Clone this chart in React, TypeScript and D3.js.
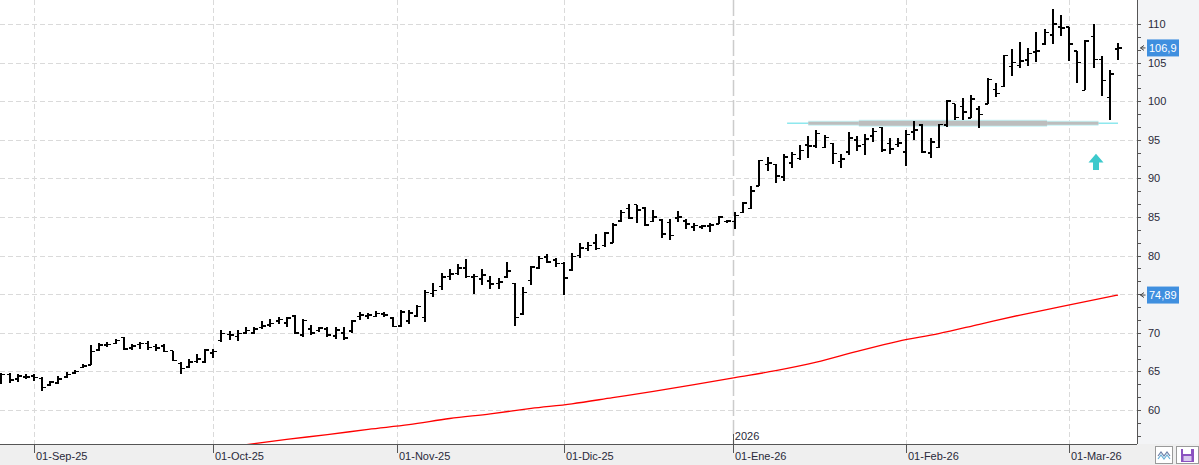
import { useMemo } from "react";
import * as d3 from "d3";

const WIDTH = 1199;
const HEIGHT = 465;
const PLOT = { left: 0, right: 1137, top: 0, bottom: 444 };
const FONT = "'Liberation Sans', Arial, sans-serif";

// daily OHLC, 26-Aug-25 .. 10-Mar-26
const opens = [
  64.2, 64.6, 64.0, 64.3, 64.4, 64.1, 63.2, 63.5, 64.3, 64.8, 65.5, 65.8, 67.8, 68.4, 68.6, 69.4, 68.0, 68.5, 68.6, 68.2,
  68.3, 67.7, 66.0, 65.6, 66.3, 66.2, 67.4, 69.0, 69.8, 69.5, 70.0, 70.0, 70.7, 71.0, 71.5, 71.3, 72.2, 69.7, 70.5, 70.3,
  70.5, 69.6, 70.0, 70.2, 72.1, 72.2, 72.1, 72.4, 71.9, 70.9, 71.5, 72.2, 72.0, 75.1, 76.0, 77.3, 77.7, 78.4, 77.2, 77.0,
  76.7, 76.4, 77.2, 76.4, 72.4, 76.8, 78.4, 79.8, 79.4, 79.0, 78.1, 80.0, 80.9, 81.6, 81.3, 81.6, 84.5, 86.1, 86.6, 86.2,
  84.4, 84.6, 84.3, 84.9, 84.5, 83.7, 83.7, 83.8, 84.1, 84.4, 84.4, 85.6, 86.1, 89.0, 91.8, 91.8, 90.2, 92.0, 92.6, 94.3,
  94.2, 94.0, 94.5, 92.2, 93.4, 95.0, 94.4, 95.5, 96.6, 94.5, 94.4, 93.4, 96.0, 96.9, 93.3, 94.0, 96.9, 99.7, 99.3, 97.8,
  99.0, 99.6, 101.5, 101.9, 104.5, 104.6, 105.3, 106.4, 107.4, 108.6, 109.6, 109.6, 106.5, 101.4, 108.4, 105.4, 100.5, 106.8,
];
const highs = [
  64.8, 64.8, 64.7, 64.6, 64.6, 64.3, 63.7, 64.4, 64.9, 65.2, 66.0, 68.4, 68.7, 68.8, 69.2, 69.5, 68.6, 68.8, 69.0, 68.5,
  68.5, 67.7, 66.2, 66.6, 67.2, 67.9, 67.9, 70.3, 70.2, 70.4, 70.8, 70.7, 71.5, 71.8, 72.0, 72.0, 72.3, 71.8, 71.0, 70.8,
  70.8, 70.8, 70.7, 71.7, 72.7, 72.6, 72.8, 72.7, 72.1, 73.0, 72.9, 73.6, 75.5, 76.4, 77.7, 78.2, 78.9, 79.5, 77.6, 78.2,
  77.3, 77.1, 79.2, 76.5, 75.9, 78.6, 80.0, 80.2, 79.7, 79.2, 80.3, 81.6, 81.8, 82.8, 83.0, 84.2, 85.9, 86.7, 86.6, 86.3,
  85.9, 84.8, 84.8, 85.8, 84.7, 84.2, 84.0, 84.2, 85.1, 84.6, 85.7, 87.0, 89.0, 92.4, 92.8, 91.9, 93.1, 93.4, 94.3, 95.5,
  96.3, 95.6, 94.6, 93.2, 96.0, 95.5, 95.8, 96.5, 96.7, 95.2, 95.2, 96.3, 97.4, 97.0, 95.2, 97.1, 100.1, 99.7, 100.4, 100.8,
  99.4, 103.0, 102.4, 106.0, 106.7, 107.7, 106.9, 108.9, 109.4, 111.9, 111.2, 109.6, 106.5, 107.9, 110.0, 105.8, 104.1, 107.5,
];
const lows = [
  63.4, 63.5, 63.6, 64.0, 63.8, 62.4, 63.1, 63.4, 64.2, 64.7, 65.4, 65.8, 67.6, 68.2, 68.5, 67.8, 67.8, 67.9, 67.8, 67.7,
  67.5, 66.3, 64.7, 65.5, 66.1, 66.1, 66.8, 68.8, 69.1, 69.0, 69.9, 69.9, 70.5, 70.7, 71.2, 70.8, 69.9, 69.5, 69.7, 70.1,
  69.4, 69.2, 69.1, 70.0, 71.6, 71.8, 72.0, 72.0, 70.7, 70.8, 71.1, 72.0, 71.4, 74.6, 75.6, 76.9, 77.5, 77.1, 75.0, 76.2,
  75.7, 75.7, 77.1, 70.9, 72.3, 76.2, 78.2, 79.1, 78.5, 74.9, 78.0, 79.7, 80.6, 80.7, 81.1, 81.6, 84.4, 84.8, 84.2, 83.8,
  84.4, 82.3, 82.0, 84.4, 83.4, 83.2, 83.4, 83.1, 84.1, 84.2, 83.4, 85.5, 86.1, 89.0, 91.0, 89.4, 89.7, 91.3, 92.4, 92.6,
  93.9, 93.9, 91.9, 91.3, 93.0, 93.6, 93.0, 94.7, 93.4, 93.1, 94.1, 91.6, 95.0, 93.3, 92.6, 93.9, 96.7, 97.6, 97.6, 97.8,
  96.5, 99.6, 100.5, 101.9, 103.2, 104.3, 104.6, 105.1, 107.3, 107.4, 108.4, 105.2, 102.3, 101.4, 104.3, 100.7, 97.6, 105.3,
];
const closes = [
  64.6, 63.9, 64.4, 64.3, 64.2, 62.9, 63.6, 64.0, 64.6, 65.0, 65.7, 67.6, 68.4, 68.5, 69.0, 67.9, 68.3, 68.6, 68.1, 68.0,
  67.6, 66.4, 65.4, 66.2, 66.6, 67.8, 67.6, 69.9, 69.7, 69.9, 70.3, 70.5, 70.9, 71.2, 71.7, 71.9, 70.0, 71.6, 70.0, 70.6,
  69.7, 70.4, 69.3, 71.5, 72.3, 72.3, 72.5, 72.3, 70.8, 72.7, 72.6, 73.4, 75.2, 75.5, 77.2, 77.6, 78.4, 77.3, 77.3, 77.5,
  76.3, 76.6, 78.0, 72.0, 75.2, 78.5, 79.6, 79.2, 79.0, 77.1, 79.9, 81.0, 81.3, 80.9, 82.9, 84.0, 85.6, 84.9, 85.9, 84.0,
  85.0, 82.8, 82.6, 85.0, 84.1, 83.9, 83.8, 84.0, 85.0, 84.5, 85.2, 86.8, 88.4, 92.3, 92.0, 90.3, 92.8, 93.1, 93.6, 94.2,
  95.8, 95.3, 93.2, 92.5, 95.2, 94.2, 95.1, 96.1, 93.7, 93.8, 94.6, 95.7, 96.3, 93.4, 94.7, 97.0, 100.0, 97.9, 98.6, 100.3,
  98.3, 102.8, 101.0, 105.9, 105.0, 105.2, 106.2, 106.5, 108.9, 110.0, 109.5, 107.4, 105.0, 107.8, 105.4, 102.7, 103.5, 106.9,
];

// moving average (red), read at every fifth bar
const maIndex = [30, 35, 40, 45, 50, 55, 60, 65, 70, 75, 80, 85, 90, 95, 100, 105, 110, 115, 120, 125, 130, 137];
const maValues = [
  55.5, 56.2, 56.8, 57.5, 58.1, 58.9, 59.5, 60.2, 60.8, 61.6, 62.4, 63.3, 64.2, 65.1, 66.2, 67.6, 68.9, 69.9, 71.1, 72.3,
  73.4, 74.89,
];

const monthLabels = ["01-Sep-25", "01-Oct-25", "01-Nov-25", "01-Dic-25", "01-Ene-26", "01-Feb-26", "01-Mar-26"];
const monthIndex = [4, 26, 48.5, 69, 89.8, 111, 131];
const yearLabel = "2026";
const yearIndex = 89.8;
const priceTicks = [60, 65, 70, 75, 80, 85, 90, 95, 100, 105, 110];

// support line drawn on the chart
const supportLevel = 97.15;
const supportThin = [96.4, 137];
const supportMid = [99, 134.6];
const supportThick = [105.2, 128.3];
// buy signal arrow
const arrowIndex = 134.3;
const arrowTop = 93.2;
const arrowBottom = 91.1;

const fmt = (v: number, d: number) => v.toFixed(d).replace(".", ",");

export default function App() {
  const n = closes.length;

  const xScale = useMemo(() => d3.scaleLinear().domain([0, n - 1]).range([1.4, 1118]), [n]);
  const yScale = useMemo(() => d3.scaleLinear().domain([60, 110]).range([410, 24]), []);

  const minorTicks = d3.range(-2, 34).map((k) => 55 + (k * 5) / 3);

  const maLine = d3
    .line<number>()
    .curve(d3.curveMonotoneX)
    .x((_, i) => xScale(maIndex[i]))
    .y((d) => yScale(d))(maValues);

  const bars = closes.map((c, i) => {
    const x = Math.round(xScale(i));
    return (
      <g key={i} stroke="#000" strokeWidth={1.6} shapeRendering="crispEdges">
        <line x1={x} x2={x} y1={yScale(highs[i])} y2={yScale(lows[i])} />
        <line x1={x - 3.5} x2={x} y1={yScale(opens[i])} y2={yScale(opens[i])} />
        <line x1={x} x2={x + 3.5} y1={yScale(c)} y2={yScale(c)} />
      </g>
    );
  });

  const ys = yScale(supportLevel);
  const ax = xScale(arrowIndex);
  const aTop = yScale(arrowTop);
  const aBot = yScale(arrowBottom);
  const aMid = aTop + (aBot - aTop) * 0.55;

  const lastClose = closes[n - 1];
  const lastMa = maValues[maValues.length - 1];
  const valueLabels = [
    { v: lastClose, label: fmt(lastClose, 1) },
    { v: lastMa, label: fmt(lastMa, 2) },
  ];
  // tick labels hidden behind a value label
  const hidden = (t: number) => valueLabels.some((d) => Math.abs(yScale(d.v) - yScale(t)) < 10);

  return (
    <div style={{ position: "absolute", left: 0, top: 0 }}>
      <svg width={WIDTH} height={HEIGHT} style={{ display: "block", fontFamily: FONT }}>
        <defs>
          <clipPath id="plotclip">
            <rect x={PLOT.left} y={PLOT.top} width={PLOT.right - PLOT.left} height={PLOT.bottom - PLOT.top} />
          </clipPath>
        </defs>
        <rect x={0} y={0} width={WIDTH} height={HEIGHT} fill="#fff" />
        <rect x={PLOT.right} y={0} width={WIDTH - PLOT.right} height={PLOT.bottom} fill="#f3f4f6" />
        <rect x={0} y={PLOT.bottom} width={WIDTH} height={HEIGHT - PLOT.bottom} fill="#efefef" />

        {/* grid */}
        {priceTicks.map((t) => (
          <line key={t} x1={PLOT.left} x2={PLOT.right} y1={Math.round(yScale(t)) + 0.5} y2={Math.round(yScale(t)) + 0.5}
            stroke="#dadada" strokeDasharray="5,3" />
        ))}
        {monthIndex.map((m, i) => (
          <line key={i} x1={Math.round(xScale(m)) + 0.5} x2={Math.round(xScale(m)) + 0.5} y1={0} y2={PLOT.bottom}
            stroke={m === yearIndex ? "#cccccc" : "#dadada"} strokeWidth={m === yearIndex ? 1.5 : 1}
            strokeDasharray={m === yearIndex ? "16,4" : "5,3"} />
        ))}

        <g clipPath="url(#plotclip)">
          <path d={maLine ?? ""} fill="none" stroke="#ff0000" strokeWidth={1.3} />

          {/* support */}
          <line x1={xScale(supportThin[0])} x2={xScale(supportThin[1])} y1={ys} y2={ys} stroke="#8ee8ee" strokeWidth={1.5} />
          <line x1={xScale(supportMid[0])} x2={xScale(supportMid[1])} y1={ys} y2={ys} stroke="#c6f3f6" strokeWidth={5} />
          <line x1={xScale(supportMid[0])} x2={xScale(supportMid[1])} y1={ys} y2={ys} stroke="#bdbdbd" strokeWidth={3} />
          <line x1={xScale(supportThick[0])} x2={xScale(supportThick[1])} y1={ys} y2={ys} stroke="#c6f3f6" strokeWidth={7} />
          <line x1={xScale(supportThick[0])} x2={xScale(supportThick[1])} y1={ys} y2={ys} stroke="#bdbdbd" strokeWidth={5} />

          {bars}

          <path
            d={`M${ax},${aTop} L${ax + 7.5},${aMid} L${ax + 3},${aMid} L${ax + 3},${aBot} L${ax - 3},${aBot} L${ax - 3},${aMid} L${ax - 7.5},${aMid} Z`}
            fill="#3cc9cc"
          />
        </g>

        {/* axes */}
        <line x1={0} x2={PLOT.right} y1={PLOT.bottom + 0.5} y2={PLOT.bottom + 0.5} stroke="#555" />
        <line x1={PLOT.right + 0.5} x2={PLOT.right + 0.5} y1={0} y2={PLOT.bottom} stroke="#555" />

        {minorTicks.filter((t) => yScale(t) > 0 && yScale(t) < PLOT.bottom).map((t, i) => (
          <line key={i} x1={PLOT.right} x2={PLOT.right + 4} y1={Math.round(yScale(t)) + 0.5} y2={Math.round(yScale(t)) + 0.5}
            stroke="#555" />
        ))}
        {priceTicks.map((t) => (
          <g key={t}>
            <line x1={PLOT.right} x2={PLOT.right + 4} y1={Math.round(yScale(t)) + 0.5} y2={Math.round(yScale(t)) + 0.5} stroke="#555" />
            {!hidden(t) && (
              <text x={1148} y={yScale(t)} dy="0.36em" fontSize={11} fill="#2a2a3a">{t}</text>
            )}
          </g>
        ))}

        {monthIndex.map((m, i) => {
          const x = Math.round(xScale(m)) + 0.5;
          return (
            <g key={i}>
              <line x1={x} x2={x} y1={PLOT.bottom} y2={PLOT.bottom + 9} stroke="#555" />
              <text x={x + 1.5} y={460} fontSize={11} fill="#2a2a3a">{monthLabels[i]}</text>
            </g>
          );
        })}
        <line x1={Math.round(xScale(yearIndex)) + 0.5} x2={Math.round(xScale(yearIndex)) + 0.5} y1={PLOT.bottom - 10}
          y2={PLOT.bottom} stroke="#555" />
        <text x={xScale(yearIndex) + 1.5} y={440} fontSize={11} fill="#2a2a3a">{yearLabel}</text>

        {/* last value labels */}
        {valueLabels.map((d, i) => {
          const y = yScale(d.v);
          return (
            <g key={i}>
              <path d={`M${1144},${y - 2.5} L${1140.5},${y} L${1144},${y + 2.5} M${1140.5},${y} L${1145.5},${y}`}
                stroke="#444" fill="none" strokeWidth={1} />
              <rect x={1147} y={y - 8.5} width={32} height={17} fill="#3f8fdf" />
              <text x={1149} y={y} dy="0.36em" fontSize={11} fill="#fff">{d.label}</text>
            </g>
          );
        })}

        {/* corner buttons */}
        <rect x={1155.5} y={446.5} width={17} height={17} fill="#fff" stroke="#9a9a9a" />
        <polyline points="1158,456 1161,452 1164,456 1167,452 1170,456" fill="none" stroke="#6c7fa8" strokeWidth={1.2} />
        <polyline points="1158,459 1161,455 1164,459 1167,455 1170,459" fill="none" stroke="#6ab0d8" strokeWidth={1.2} />
        <rect x={1176.5} y={446.5} width={22} height={17} fill="#fff" stroke="#9a9a9a" />
        <rect x={1181} y={449} width={13} height={13} fill="#8b52c0" />
        <rect x={1183} y={449} width={8} height={5} fill="#fff" />
        <rect x={1183.5} y={456} width={8} height={5} fill="#d9c8ee" />
      </svg>
    </div>
  );
}
